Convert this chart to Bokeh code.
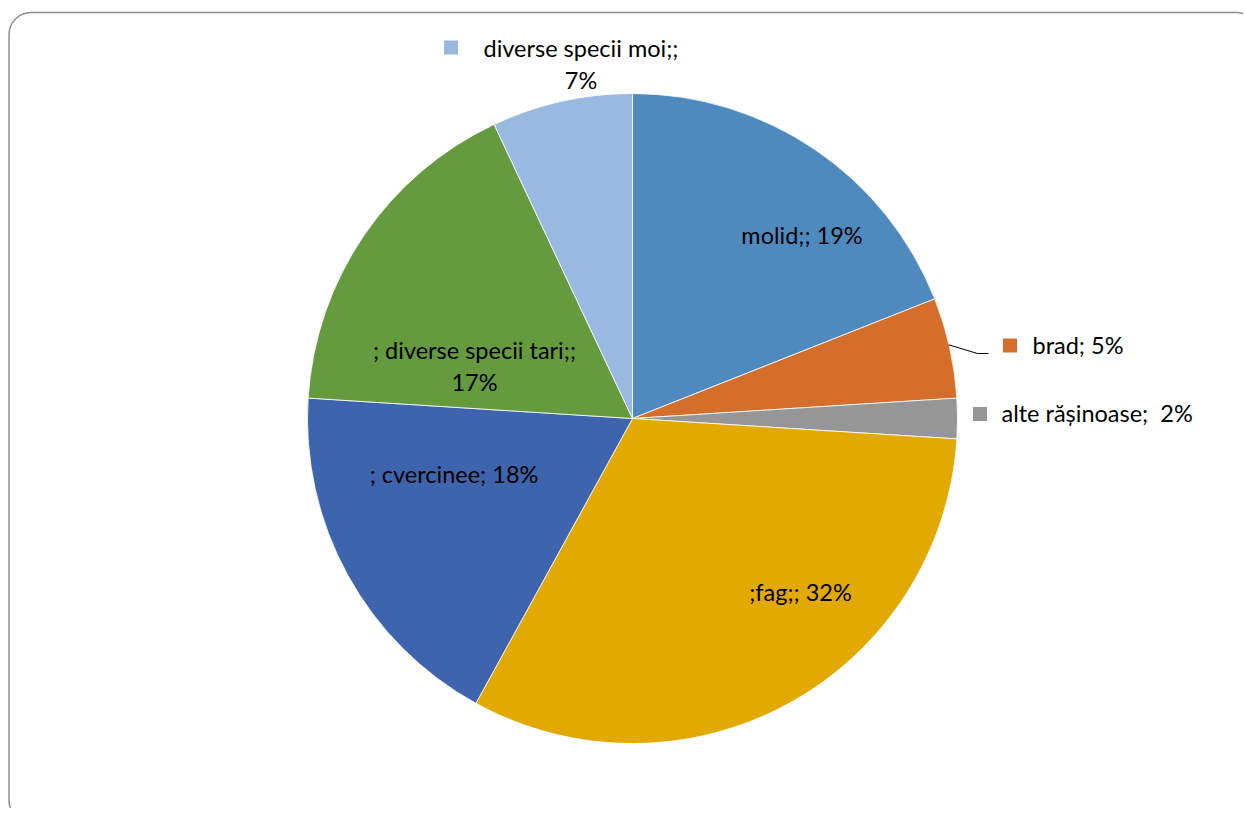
import math
from bokeh.plotting import figure
from bokeh.models import Range1d, ColumnDataSource
from bokeh.core.properties import value
from bokeh.embed import file_html
from bokeh.resources import INLINE

# ---- data ----
categories = ["molid", "brad", "alte rășinoase", "fag", "cvercinee",
              "diverse specii tari", "diverse specii moi"]
shares = [19, 5, 2, 32, 18, 17, 7]
colors = ["#4F8ABE", "#D46E2A", "#969696", "#E2AA00", "#3E64AD",
          "#659A3E", "#9AB9E0"]
label_prefix = ["molid;;", "brad;", "alte rășinoase;\u00a0", ";fag;;", "; cvercinee;",
                "; diverse specii tari;;", "diverse specii moi;;"]
two_line = [False, False, False, False, False, True, True]

# ---- layout ----
W, H = 1243, 808
cx, cy, R = 632, 390, 325
FONT = "Lato"
FS = "23.5px"
TEXT_SHIFT = 9
# label anchors (figure pixel coords): (x, baseline y, align)
label_pos = [(801.5, 565, "center"), (1032, 455, "left"), (1001, 387, "left"),
             (800, 208, "center"), (453.5, 326, "center"), (474, 450, "center"),
             (580.5, 752, "center")]
line_gap = 32
key_pos = {1: (1009.5, 463), 2: (979.5, 394.5), 6: (450.5, 761)}

p = figure(width=W, height=H, x_range=Range1d(0, W), y_range=Range1d(0, H),
           x_axis_type=None, y_axis_type=None, toolbar_location=None,
           output_backend="svg", min_border=0)
p.grid.visible = False
p.outline_line_color = None
p.background_fill_color = "white"
p.border_fill_color = "white"

# rounded frame
p.quad(left=[8.5], right=[1258], top=[796], bottom=[-14], border_radius=22,
       fill_color=None, line_color="#8f8f8f", line_width=1.5)

total = sum(shares)
starts, ends = [], []
cum = 0
for s in shares:
    starts.append(math.pi / 2 - 2 * math.pi * cum / total)
    cum += s
    ends.append(math.pi / 2 - 2 * math.pi * cum / total)

src = ColumnDataSource(dict(cat=categories, share=shares, color=colors,
                            start=starts, end=ends))
p.wedge(x=cx, y=cy, radius=R, radius_units="screen", start_angle="start",
        end_angle="end", direction="clock", fill_color="color",
        line_color="white", line_width=0.8, source=src)

# leader line for brad
mid = (starts[1] + ends[1]) / 2
sx, sy = cx + (R - 1) * math.cos(mid), cy + (R - 1) * math.sin(mid)
p.line(x=[sx, 977, 988], y=[sy + 3, 455, 455], line_color="black", line_width=1)

# labels
tx, ty, ttxt, talign = [], [], [], []
for i in range(len(categories)):
    x, y, al = label_pos[i]
    y += TEXT_SHIFT
    pct = f"{shares[i]}%"
    if two_line[i]:
        tx += [x, x]
        ty += [y, y - line_gap]
        ttxt += [label_prefix[i], pct]
        talign += [al, "center"]
    else:
        tx.append(x)
        ty.append(y)
        ttxt.append(label_prefix[i] + " " + pct)
        talign.append(al)

lsrc = ColumnDataSource(dict(x=tx, y=ty, text=ttxt, align=talign))
p.text(x="x", y="y", text="text", text_align="align", text_baseline="alphabetic",
       text_font=value(FONT), text_font_size=FS, text_color="black", source=lsrc)

# legend keys
kx = [key_pos[i][0] for i in key_pos]
ky = [key_pos[i][1] for i in key_pos]
kc = [colors[i] for i in key_pos]
p.rect(x=kx, y=ky, width=14, height=14, width_units="screen", height_units="screen",
       fill_color=kc, line_color=None)

open("out.html", "w").write(file_html(p, INLINE))
